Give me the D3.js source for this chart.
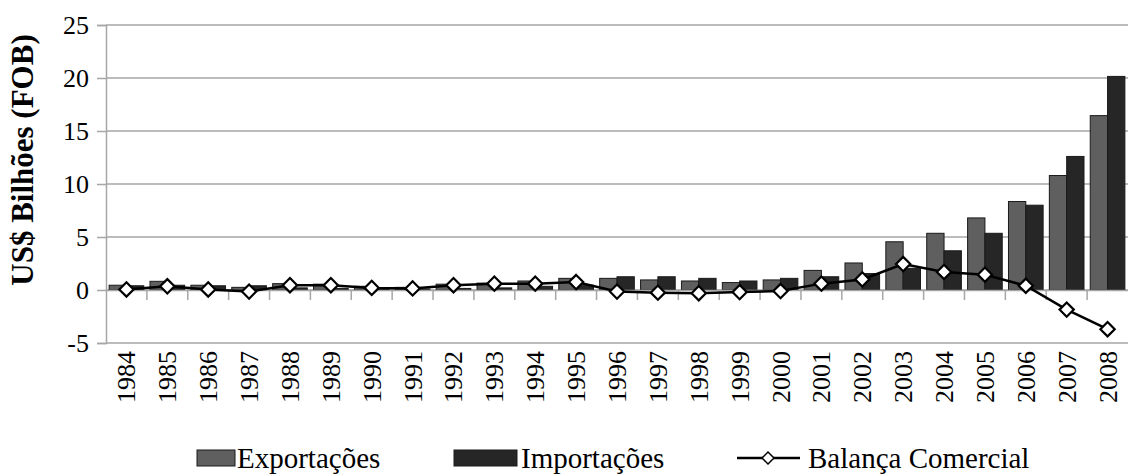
<!DOCTYPE html>
<html><head><meta charset="utf-8">
<script src="https://cdn.jsdelivr.net/npm/d3@7"></script>
<style>body{margin:0;background:#fff}svg{display:block}svg text{font-family:"Liberation Serif","Tinos","DejaVu Serif","Times New Roman",serif}</style>
</head><body>
<script>
const years = ["1984","1985","1986","1987","1988","1989","1990","1991","1992","1993","1994","1995","1996","1997","1998","1999","2000","2001","2002","2003","2004","2005","2006","2007","2008"];
const exportacoes = [0.45,0.82,0.45,0.25,0.6,0.55,0.35,0.25,0.55,0.65,0.85,1.1,1.1,0.95,0.85,0.7,0.95,1.85,2.55,4.55,5.35,6.8,8.35,10.8,16.45];
const importacoes = [0.4,0.45,0.4,0.4,0.2,0.15,0.15,0.1,0.15,0.2,0.35,0.45,1.25,1.25,1.1,0.85,1.1,1.25,1.55,2.05,3.7,5.35,8.0,12.6,20.15];
const balanca = [0.05,0.35,0.05,-0.15,0.45,0.45,0.2,0.15,0.45,0.6,0.6,0.75,-0.15,-0.25,-0.3,-0.2,-0.1,0.6,1.0,2.45,1.7,1.45,0.4,-1.85,-3.7];
const yTicks = [-5,0,5,10,15,20,25];
const seriesNames = ["Exportações","Importações","Balança Comercial"];

const W = 1128, H = 475;
const mLeft = 106, mRight = 1128, mTop = 25, mBottom = 343;
const svg = d3.select("body").append("svg").attr("width", W).attr("height", H);

const x = d3.scaleBand().domain(years).range([mLeft, mRight]).paddingInner(0).paddingOuter(0);
const y = d3.scaleLinear().domain([-5, 25]).range([mBottom, mTop]);
const xs = d3.scaleBand().domain(["e","i"]).range([0, x.bandwidth()]).paddingOuter(0.18).paddingInner(0);

// gridlines
svg.append("g").selectAll("line").data(yTicks).join("line")
  .attr("x1", mLeft).attr("x2", mRight).attr("y1", d => y(d)).attr("y2", d => y(d))
  .attr("stroke", "#a6a6a6").attr("stroke-width", 1.5);

// y axis
const yAxis = svg.append("g").attr("transform", `translate(${mLeft},0)`)
  .call(d3.axisLeft(y).tickValues(yTicks).tickSize(9).tickPadding(8).tickFormat(d => String(d)));
yAxis.attr("font-family", null);
yAxis.select(".domain").attr("stroke", "#a6a6a6").attr("stroke-width", 1.5);
yAxis.selectAll(".tick line").attr("stroke", "#a6a6a6").attr("stroke-width", 1.5);
yAxis.selectAll("text").attr("font-size", 26).attr("fill", "#000");

// bars
const colors = {e: "#5f5f5f", i: "#262626"};
const g = svg.append("g");
years.forEach((yr, k) => {
  [["e", exportacoes[k]], ["i", importacoes[k]]].forEach(([s, v]) => {
    g.append("rect")
      .attr("x", x(yr) + xs(s)).attr("width", xs.bandwidth())
      .attr("y", y(Math.max(0, v))).attr("height", Math.abs(y(v) - y(0)))
      .attr("fill", colors[s]).attr("stroke", "#1a1a1a").attr("stroke-width", 1);
  });
});

// x axis at zero
const xAxis = svg.append("g").attr("transform", `translate(0,${y(0)})`)
  .call(d3.axisBottom(x).tickSize(0).tickFormat(""));
xAxis.select(".domain").attr("stroke", "#a6a6a6").attr("stroke-width", 1.5);
svg.append("g").selectAll("line").data(years.slice(1)).join("line")
  .attr("x1", d => x(d)).attr("x2", d => x(d))
  .attr("y1", y(0)).attr("y2", y(0) + 10)
  .attr("stroke", "#a6a6a6").attr("stroke-width", 1.5);

// year labels
svg.append("g").selectAll("text").data(years).join("text")
  .attr("transform", d => `translate(${x(d) + x.bandwidth()/2 + 9},${mBottom + 8}) rotate(-90)`)
  .attr("text-anchor", "end").attr("font-size", 26)
  .text(d => d);

// balance line
const line = d3.line().x((d, k) => x(years[k]) + x.bandwidth()/2).y(d => y(d));
svg.append("path").datum(balanca).attr("d", line)
  .attr("fill", "none").attr("stroke", "#000").attr("stroke-width", 2.5);
const diamond = d3.symbol().type(d3.symbolDiamond2).size(130);
svg.append("g").selectAll("path").data(balanca).join("path")
  .attr("transform", (d, k) => `translate(${x(years[k]) + x.bandwidth()/2},${y(d)})`)
  .attr("d", diamond).attr("fill", "#fff").attr("stroke", "#000").attr("stroke-width", 2.2);

// y title
svg.append("text").attr("transform", `translate(33,160) rotate(-90)`)
  .attr("text-anchor", "middle").attr("font-weight", "bold")
  .attr("font-size", 31).text("US$ Bilhões (FOB)");

// legend
const ly = 458;
const leg = svg.append("g");
leg.append("rect").attr("x", 197).attr("y", ly - 8).attr("width", 38).attr("height", 16)
  .attr("fill", colors.e).attr("stroke", "#1a1a1a");
leg.append("text").attr("x", 237).attr("y", ly + 10).attr("font-size", 29).text(seriesNames[0]);
leg.append("rect").attr("x", 454).attr("y", ly - 8).attr("width", 63).attr("height", 16)
  .attr("fill", colors.i).attr("stroke", "#1a1a1a");
leg.append("text").attr("x", 521).attr("y", ly + 10).attr("font-size", 29).text(seriesNames[1]);
leg.append("line").attr("x1", 737).attr("x2", 800).attr("y1", ly).attr("y2", ly).attr("stroke", "#000").attr("stroke-width", 2.5);
leg.append("path").attr("transform", `translate(768,${ly})`).attr("d", d3.symbol().type(d3.symbolDiamond2).size(90))
  .attr("fill", "#fff").attr("stroke", "#000").attr("stroke-width", 1.5);
leg.append("text").attr("x", 808).attr("y", ly + 10).attr("font-size", 29).text(seriesNames[2]);
</script>
</body></html>
